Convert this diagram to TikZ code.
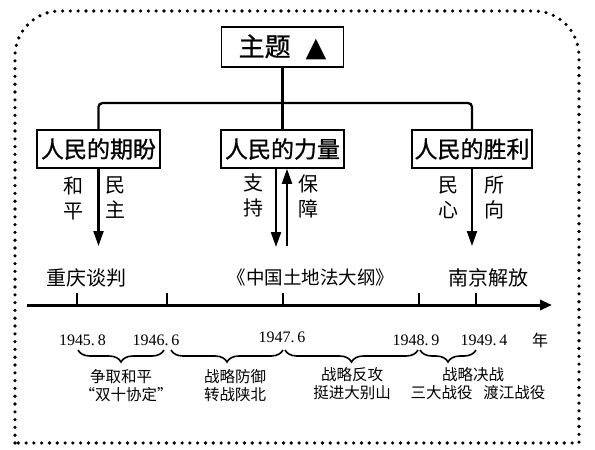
\documentclass[tikz,border=0pt]{standalone}
\usepackage{fontspec}
\setmainfont{Noto Sans CJK SC}
\newfontfamily\boldcjk[FakeBold=0.8]{Noto Sans CJK SC}
\newfontfamily\datefont{Liberation Serif}
\newfontfamily\symfont{DejaVu Sans}
\usetikzlibrary{arrows.meta,decorations.pathreplacing}
\tikzset{
  box/.style={draw, line width=1.6pt, minimum width=123pt, minimum height=38pt, inner sep=0pt, font=\boldcjk\fontsize{23}{26}\selectfont},
  conn/.style={line width=2.3pt},
  arr/.style={line width=2.1pt, -{Triangle[length=15pt,width=10pt]}},
  lab/.style={align=center, inner sep=0pt, font=\fontsize{20}{25}\selectfont},
  evt/.style={inner sep=0pt, font=\fontsize{20}{24}\selectfont},
  datelab/.style={inner sep=0pt, font=\datefont\fontsize{16}{18}\selectfont},
  notelab/.style={inner sep=0pt, font=\fontsize{15.5}{18}\selectfont},
  brc/.style={line width=1.6pt, decorate, decoration={brace, mirror, amplitude=12pt}},
  dotline/.style={line width=3.6pt, line cap=round, dash pattern=on 0pt off 7.8pt},
  axisline/.style={line width=3pt, -{Triangle[length=12pt,width=10pt]}},
  tickline/.style={line width=2pt},
}
\begin{document}
\begin{tikzpicture}[x=1pt,y=-1pt]
\useasboundingbox (0,0) rectangle (595,450);
% dotted frame
\draw[dotline] (15,443) -- (15,56) .. controls (15,31.2) and (35.2,11) .. (60,11) -- (534,11) .. controls (558.8,11) and (579,31.2) .. (579,56) -- (579,443) -- cycle;

% title and boxes
\node[box, minimum width=122pt, minimum height=40pt, font=\boldcjk\fontsize{26}{30}\selectfont] (title) at (282.5,47) {主题\hspace{15pt}{\symfont\fontsize{27}{30}\selectfont ▲}\hspace{9pt}};
\node[box] (b1) at (98.5,149) {人民的期盼};
\node[box] (b2) at (282.5,149) {人民的力量};
\node[box, minimum width=120pt] (b3) at (472,149) {人民的胜利};

\coordinate (bar) at (282.5,103);
\draw[conn] (title.south) -- (bar);
\draw[conn, rounded corners=4pt] (b1.north) |- (bar) -| (b3.north);
\draw[conn] (b2.north) -- (bar);

% arrows
\coordinate (e1) at (98.5,246);
\draw[arr] (b1.south) -- (e1);
\coordinate (e2) at (276,247);
\draw[arr] (b2.south -| e2) -- (e2);
\coordinate (s2) at (287,246);
\draw[arr] (s2) -- (b2.south -| s2);
\coordinate (e3) at (472,246);
\draw[arr] (b3.south) -- (e3);

% arrow labels
\node[lab] (l1a) at (73,198) {和\\平};
\node[lab] (l1b) at (115,198) {民\\主};
\node[lab] (l2a) at (253,195) {支\\持};
\node[lab] (l2b) at (308,196) {保\\障};
\node[lab] (l3a) at (448,198) {民\\心};
\node[lab] (l3b) at (494,198) {所\\向};

% events
\node[evt] (ev1) at (86,278) {重庆谈判};
\node[evt, font=\fontsize{18.5}{22}\selectfont] (ev2) at (311,277) {《中国土地法大纲》};
\node[evt] (ev3) at (488,278) {南京解放};

% axis
\coordinate (ax0) at (27,305);
\coordinate (ax1) at (552,305);
\draw[axisline] (ax0) -- (ax1);
\foreach \x/\n in {77/t1,167/t2,283/t3,419/t4,476/t5}{
  \coordinate (\n) at (\x,305);
  \draw[tickline] (\n) -- ++(0,-12);
}

% dates
\node[datelab] (d1) at (82.5,340) {1945.\kern3pt 8};
\node[datelab] (d2) at (156,340) {1946.\kern3pt 6};
\node[datelab] (d3) at (282,337) {1947.\kern3pt 6};
\node[datelab] (d4) at (416,340) {1948.\kern3pt 9};
\node[datelab] (d5) at (484,340) {1949.\kern3pt 4};
\node[notelab, font=\fontsize{16}{18}\selectfont] (yr) at (540,340) {年};

% braces
\draw[brc] (78,350) -- (164,350);
\draw[brc] (171,350) -- (283,350);
\draw[brc] (285,350) -- (418,350);
\draw[brc] (420,350) -- (476,350);

% notes
\node[notelab] (n1a) at (121,377) {争取和平};
\node[notelab] (n1b) at (126,395) {“双十协定”};
\node[notelab] (n2a) at (235,377) {战略防御};
\node[notelab] (n2b) at (235,395) {转战陕北};
\node[notelab] (n3a) at (352,375) {战略反攻};
\node[notelab] (n3b) at (352,393) {挺进大别山};
\node[notelab] (n4a) at (473,375) {战略决战};
\node[notelab] (n4b) at (478,393) {三大战役\hspace{11pt}渡江战役};
\end{tikzpicture}
\end{document}
